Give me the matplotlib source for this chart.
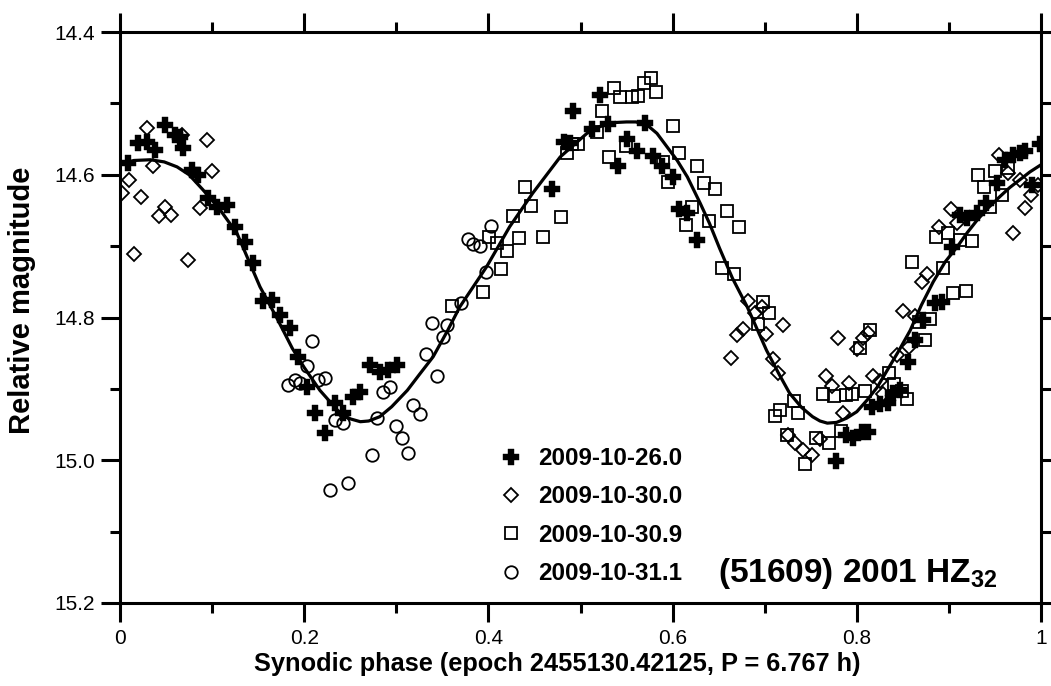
import matplotlib
matplotlib.use("Agg")
import matplotlib.pyplot as plt

plt.rcParams['font.family'] = ['Liberation Sans', 'DejaVu Sans']
plt.rcParams['mathtext.default'] = 'regular'

# ---------------- data ----------------
x_ticks = [0, 0.2, 0.4, 0.6, 0.8, 1.0]
x_ticklabels = ['0', '0.2', '0.4', '0.6', '0.8', '1']
y_ticks = [14.4, 14.6, 14.8, 15.0, 15.2]
y_ticklabels = ['14.4', '14.6', '14.8', '15.0', '15.2']

labels = ['2009-10-26.0', '2009-10-30.0', '2009-10-30.9', '2009-10-31.1']

plus_phase = [0.0489, 0.0195, 0.0293, 0.0597, 0.0651, 0.038, 0.0684, 0.0087, 0.0782, 0.0847,
              0.0955, 0.1162, 0.1053, 0.1249, 0.1357, 0.1444, 0.1553, 0.165, 0.1737, 0.1846,
              0.1933, 0.2030, 0.2117, 0.2226, 0.2334, 0.2421, 0.2530, 0.2606, 0.2715, 0.2823,
              0.2910, 0.3008,
              0.4919, 0.5212, 0.5125, 0.5299, 0.4821, 0.4886, 0.4691, 0.5505, 0.5614, 0.5407,
              0.5700, 0.5787, 0.5885, 0.6004, 0.6070, 0.6156, 0.6265,
              0.8122, 0.8056, 0.7959, 0.7883, 0.7774, 0.8165, 0.8252, 0.8339, 0.8393, 0.8469,
              0.8556, 0.8632, 0.8719, 0.8849, 0.8925, 0.9034, 0.9121, 0.9197, 0.9305, 0.9403,
              0.9522, 0.9609, 0.9696, 0.9772, 0.9826, 0.9989, 0.9902]
plus_mag = [14.530, 14.556, 14.554, 14.544, 14.547, 14.565, 14.563, 14.584, 14.593, 14.600,
            14.633, 14.642, 14.645, 14.673, 14.694, 14.724, 14.777, 14.775, 14.796, 14.815,
            14.855, 14.897, 14.934, 14.962, 14.920, 14.934, 14.911, 14.904, 14.867, 14.876,
            14.874, 14.867,
            14.511, 14.488, 14.536, 14.529, 14.554, 14.556, 14.620, 14.550, 14.567, 14.588,
            14.527, 14.574, 14.588, 14.603, 14.648, 14.654, 14.691,
            14.960, 14.960, 14.969, 14.965, 15.001, 14.925, 14.921, 14.920, 14.906, 14.902,
            14.862, 14.832, 14.803, 14.780, 14.778, 14.701, 14.656, 14.661, 14.654, 14.640,
            14.612, 14.579, 14.572, 14.570, 14.567, 14.557, 14.614]

diam_phase = [0.0293, 0.0673, 0.0945, 0.0358, 0.0999, 0.0098, 0.0022, 0.0228, 0.0489, 0.0423,
              0.0554, 0.0869, 0.0152, 0.0738,
              0.6819, 0.6895, 0.6971, 0.7199, 0.7014, 0.6764, 0.6699, 0.6634, 0.7090, 0.7144,
              0.7666, 0.7731, 0.7915, 0.7796, 0.8002, 0.8067, 0.8122, 0.8176, 0.8252, 0.8285,
              0.8437, 0.8502, 0.8567, 0.8632, 0.8708, 0.8762, 0.7850, 0.7253, 0.7329, 0.7416,
              0.7514, 0.7600,
              0.8893, 0.9023, 0.9088, 0.9544, 0.9642, 0.9772, 0.9891, 0.9826, 0.9696, 0.9967]
diam_mag = [14.535, 14.544, 14.551, 14.588, 14.595, 14.607, 14.626, 14.631, 14.645, 14.658,
            14.656, 14.647, 14.711, 14.719,
            14.777, 14.794, 14.785, 14.810, 14.823, 14.816, 14.825, 14.857, 14.858, 14.878,
            14.882, 14.896, 14.892, 14.829, 14.844, 14.829, 14.822, 14.882, 14.889, 14.907,
            14.853, 14.791, 14.841, 14.798, 14.750, 14.739, 14.934, 14.965, 14.976, 14.986,
            14.993, 14.970,
            14.673, 14.648, 14.668, 14.572, 14.598, 14.607, 14.628, 14.647, 14.682, 14.614]

sq_phase = [0.4397, 0.4463, 0.4267, 0.4788, 0.4593, 0.4332, 0.4006, 0.4093, 0.4202, 0.4137,
            0.3941, 0.3605, 0.4853, 0.4908, 0.4973, 0.5233, 0.5179, 0.5364, 0.5429, 0.5559,
            0.5624, 0.5689, 0.5766, 0.5309, 0.5494,
            0.5820, 0.6004, 0.5896, 0.6070, 0.6265, 0.6341, 0.6460, 0.5950, 0.6211, 0.6146,
            0.6395, 0.6591, 0.6721, 0.6536, 0.6667, 0.6982,
            0.7047, 0.6927, 0.7318, 0.7166, 0.7112, 0.7362, 0.7242, 0.7557, 0.7698, 0.7828,
            0.7438, 0.7633, 0.7752, 0.7883, 0.7948, 0.8089, 0.8350, 0.8404, 0.8491, 0.8545,
            0.8143, 0.8035, 0.8599, 0.8741,
            0.8936, 0.8860, 0.8990, 0.9121, 0.9251, 0.9045, 0.9186, 0.8795, 0.8675, 0.9316,
            0.9381, 0.9500, 0.9642, 0.9577, 0.9446]
sq_mag = [14.617, 14.644, 14.658, 14.659, 14.687, 14.689, 14.687, 14.696, 14.707, 14.732,
          14.764, 14.784, 14.570, 14.557, 14.557, 14.511, 14.540, 14.478, 14.491, 14.491,
          14.490, 14.471, 14.464, 14.575, 14.560,
          14.484, 14.532, 14.582, 14.570, 14.588, 14.612, 14.620, 14.610, 14.645, 14.670,
          14.665, 14.651, 14.673, 14.731, 14.739, 14.778,
          14.794, 14.809, 14.917, 14.930, 14.938, 14.934, 14.965, 14.969, 14.976, 14.959,
          15.005, 14.907, 14.910, 14.909, 14.907, 14.903, 14.878, 14.893, 14.903, 14.914,
          14.818, 14.843, 14.722, 14.832,
          14.731, 14.687, 14.682, 14.691, 14.693, 14.766, 14.763, 14.802, 14.806, 14.600,
          14.617, 14.595, 14.591, 14.628, 14.645]

circ_phase = [0.2085, 0.2030, 0.1824, 0.1900, 0.1954, 0.2150, 0.2226, 0.2334, 0.2421, 0.2790,
              0.2856, 0.2932, 0.2736, 0.2476, 0.2280, 0.2997, 0.3062, 0.3127, 0.3181, 0.3257,
              0.3322, 0.3442, 0.3388, 0.3551, 0.3507, 0.3779, 0.3833, 0.3909, 0.4028, 0.3974,
              0.3702]
circ_mag = [14.833, 14.868, 14.895, 14.888, 14.892, 14.888, 14.885, 14.944, 14.948, 14.941,
            14.904, 14.897, 14.993, 15.032, 15.042, 14.952, 14.969, 14.990, 14.923, 14.935,
            14.851, 14.882, 14.808, 14.810, 14.827, 14.690, 14.697, 14.700, 14.672, 14.736,
            14.780]

fit_phase = [0.0, 0.015, 0.033, 0.048, 0.062, 0.075, 0.090, 0.108, 0.127, 0.152, 0.170,
             0.187, 0.200, 0.217, 0.239, 0.250, 0.261, 0.270, 0.282, 0.295, 0.312, 0.325,
             0.340, 0.355, 0.369, 0.398, 0.423, 0.448, 0.478, 0.507, 0.520, 0.535, 0.550,
             0.560, 0.572, 0.583, 0.594, 0.605, 0.616, 0.630, 0.640, 0.651, 0.665, 0.681,
             0.702, 0.715, 0.727, 0.740, 0.752, 0.760, 0.768, 0.778, 0.789, 0.800, 0.811,
             0.822, 0.833, 0.845, 0.858, 0.870, 0.883, 0.896, 0.909, 0.920, 0.931, 0.943,
             0.955, 0.966, 0.977, 0.988, 1.0]
fit_mag = [14.586, 14.580, 14.579, 14.582, 14.589, 14.600, 14.621, 14.648, 14.682, 14.757,
           14.800, 14.843, 14.870, 14.902, 14.934, 14.942, 14.946, 14.945, 14.939, 14.925,
           14.902, 14.880, 14.855, 14.820, 14.785, 14.729, 14.673, 14.626, 14.575, 14.542,
           14.533, 14.527, 14.526, 14.526, 14.530, 14.542, 14.561, 14.580, 14.603, 14.640,
           14.668, 14.703, 14.745, 14.785, 14.846, 14.878, 14.906, 14.926, 14.939, 14.945,
           14.948, 14.947, 14.941, 14.932, 14.916, 14.898, 14.874, 14.848, 14.818, 14.783,
           14.750, 14.722, 14.701, 14.681, 14.663, 14.646, 14.631, 14.618, 14.607, 14.596,
           14.586]

# ---------------- figure ----------------
fig = plt.figure(figsize=(10.51, 6.86), dpi=100)
ax = fig.add_axes([120 / 1051, 83 / 686, 921 / 1051, 571 / 686])

mew = 1.3
ax.plot(fit_phase, fit_mag, color='black', lw=2.3, zorder=3, solid_capstyle='round',
        solid_joinstyle='round')
h1, = ax.plot(plus_phase, plus_mag, ls='none', marker='P', ms=11.5, mfc='black', mec='black',
              mew=0.3, zorder=4)
h2, = ax.plot(diam_phase, diam_mag, ls='none', marker='D', ms=7.0, mfc='none', mec='black',
              mew=mew, zorder=4)
h3, = ax.plot(sq_phase, sq_mag, ls='none', marker='s', ms=9.0, mfc='none', mec='black',
              mew=mew, zorder=4)
h4, = ax.plot(circ_phase, circ_mag, ls='none', marker='o', ms=9.0, mfc='none', mec='black',
              mew=mew, zorder=4)

ax.set_xlim(0, 1)
ax.set_ylim(15.2, 14.4)
ax.set_xticks(x_ticks)
ax.set_xticklabels(x_ticklabels)
ax.set_yticks(y_ticks)
ax.set_yticklabels(y_ticklabels)
ax.set_xticks([0.1, 0.3, 0.5, 0.7, 0.9], minor=True)
ax.set_yticks([14.5, 14.7, 14.9, 15.1], minor=True)

for s in ax.spines.values():
    s.set_linewidth(2.2)
ax.tick_params(which='both', direction='out', top=True, right=True, width=2.2,
               labelsize=15)
ax.tick_params(which='major', length=14)
ax.tick_params(which='minor', length=7)
ax.tick_params(axis='x', pad=5)
ax.tick_params(axis='y', pad=4)

ax.set_xlabel('Synodic phase (epoch 2455130.42125, P = 6.767 h)', fontsize=18.3,
              fontweight='bold', labelpad=0)
ax.xaxis.set_label_coords(0.4745, -0.086)
ax.set_ylabel('Relative magnitude', fontsize=21, fontweight='bold')
ax.yaxis.set_label_coords(-0.0915, 0.53)

ax.legend([h1, h2, h3, h4], labels, loc='upper left', bbox_to_anchor=(0.4115, 0.2732),
          frameon=False, prop=dict(weight='bold', size=17.4), handlelength=1.0,
          handletextpad=0.6, labelspacing=0.635, borderaxespad=0, borderpad=0)

ax.text(0.649, 0.0525, '(51609) 2001 HZ$_{32}$', transform=ax.transAxes, fontsize=24,
        fontweight='bold', ha='left', va='center')

fig.savefig('out.png', dpi=100)
